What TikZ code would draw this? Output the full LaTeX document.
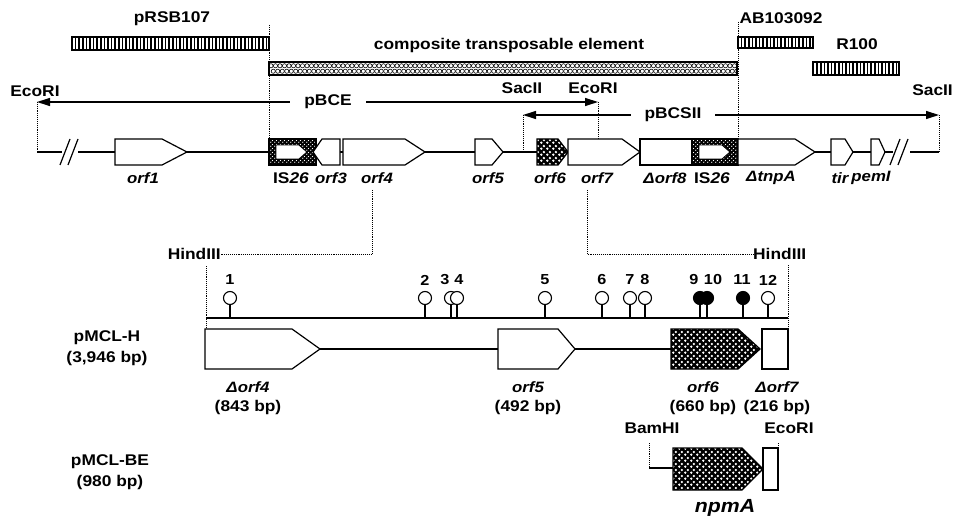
\documentclass[tikz,border=0pt]{standalone}
\usepackage{fontspec}
\setmainfont{Liberation Sans}[FakeStretch=1.12]
\usetikzlibrary{arrows.meta,patterns.meta}

\tikzdeclarepattern{name=wdots,type=uncolored,bottom left={(0pt,0pt)},top right={(6pt,6pt)},tile size={(6pt,6pt)},
  code={\fill (1.5pt,1.5pt) circle (1.45pt); \fill (4.5pt,4.5pt) circle (1.45pt);}}
\tikzdeclarepattern{name=fdots,type=uncolored,bottom left={(0pt,0pt)},top right={(3.6pt,3.6pt)},tile size={(3.6pt,3.6pt)},
  code={\fill (0.9pt,0.9pt) circle (0.7pt); \fill (2.7pt,2.7pt) circle (0.7pt);}}

\newcommand\gshape[6][genebox]{\path[#1] (#2,#5) -- (#3,#5) -- (#4,{(#5+#6)/2}) -- (#3,#6) -- (#2,#6) -- cycle;}

\begin{document}
\begin{tikzpicture}[x=1pt,y=-1pt,
  genebox/.style={draw,line width=1.2pt,fill=white,line join=miter},
  darkgene/.style={fill=black,postaction={pattern=wdots,pattern color=white},postaction={draw,line width=1.3pt,line join=miter}},
  isbox/.style={fill=black,postaction={pattern=fdots,pattern color=white},postaction={draw,line width=1.5pt}},
  stripebar/.style={draw,line width=1.1pt,pattern={Lines[angle=90,distance=3.6pt,line width=1.7pt]}},
  dna/.style={line width=1.2pt},
  dotl/.style={densely dotted,line width=0.9pt},
  lbl/.style={font=\bfseries\fontsize{15.5}{16}\selectfont,inner sep=0pt},
  glbl/.style={font=\bfseries\itshape\fontsize{15}{16}\selectfont,inner sep=0pt},
  nlbl/.style={font=\bfseries\fontsize{14.5}{15}\selectfont,inner sep=0pt},
  arr/.style={line width=1.2pt,{Triangle[length=13pt,width=8pt]}-{Triangle[length=13pt,width=8pt]}},
  pop/.style={draw,line width=1.1pt,fill=white},
  popf/.style={draw,line width=1.1pt,fill=black}]
\useasboundingbox (0,0) rectangle (954,516);

% ---------- top bars ----------
\node[lbl] (tpRSB) at (172,19) {pRSB107};
\path[stripebar] (72,37) rectangle (269,50);
\node[lbl] (tcomp) at (509,45) {composite transposable element};
\begin{scope}
  \clip (269,62) rectangle (737,75);
  \foreach \i in {0,...,104} {
    \draw[line width=0.6pt] ({271+4.5*\i},65.8) circle (2.1);
    \draw[line width=0.6pt] ({273.25+4.5*\i},71.2) circle (2.1);
  }
\end{scope}
\draw[line width=1.5pt] (269,62) rectangle (737,75);
\node[lbl] (tAB) at (781,18) {AB103092};
\path[stripebar] (738,37) rectangle (813,48);
\node[lbl] (tR100) at (857,44) {R100};
\path[stripebar] (813,62) rectangle (899,75);

% dotted boundaries
\draw[dotl] (269,25) -- (269,139);
\draw[dotl] (738,22) -- (738,139);

% ---------- restriction arrows ----------
\coordinate (ecoL) at (37,102);
\coordinate (ecoM) at (598,102);
\coordinate (sacM) at (523,115);
\coordinate (sacR) at (939,115);
\node[lbl] (tEcoL) at (35,91) {EcoRI};
\node[lbl] (tSacM) at (522,88) {SacII};
\node[lbl] (tEcoM) at (593,88) {EcoRI};
\node[lbl,anchor=east] (tSacR) at (953,90) {SacII};
\draw[arr] (ecoL) -- (ecoM);
\node[lbl,fill=white,inner xsep=14pt,inner ysep=2pt] (tpBCE) at (328,102) {pBCE};
\draw[arr] (sacM) -- (sacR);
\node[lbl,fill=white,inner xsep=14pt,inner ysep=2pt] (tpBCSII) at (673,115) {pBCSII};
\draw[dotl] (ecoL) -- (37,152);
\draw[dotl] (ecoM) -- (598,139);
\draw[dotl] (sacM) -- (523,152);
\draw[dotl] (sacR) -- (939,152);

% ---------- gene row ----------
\draw[dna] (37,152) -- (62,152);
\draw[dna] (78,152) -- (893,152);
\draw[dna] (910,152) -- (939,152);
\draw[dna] (60,165) -- (70,139);
\draw[dna] (68,165) -- (78,139);
\draw[dna] (890,165) -- (900,139);
\draw[dna] (898,165) -- (908,139);

\gshape{115}{162}{187}{139}{165}
\path[isbox] (269,139) rectangle (316,165);
\draw[line width=0.9pt,fill=white] (276,145) -- (299,145) -- (307,152) -- (299,159) -- (276,159) -- cycle;
\draw[genebox] (340,139) -- (322,139) -- (313,152) -- (322,165) -- (340,165) -- cycle;
\gshape{343}{405}{425}{139}{165}
\gshape{475}{492}{503}{139}{165}
\gshape[darkgene]{537}{558}{568}{139}{165}
\gshape{568}{622}{640}{139}{165}
\draw[genebox] (640,139) rectangle (692,165);
\path[isbox] (692,139) rectangle (738,165);
\draw[line width=0.9pt,fill=white] (699,145) -- (722,145) -- (730,152) -- (722,159) -- (699,159) -- cycle;
\gshape{738}{795}{815}{139}{165}
\gshape{831}{845}{853}{139}{165}
\gshape{871}{879}{885}{139}{165}

\node[glbl] (lorf1) at (143,178) {orf1};
\node[lbl] (lIS26a) at (291,178) {IS\textit{26}};
\node[glbl] (lorf3) at (331,178) {orf3};
\node[glbl] (lorf4) at (377,178) {orf4};
\node[glbl] (lorf5) at (488,178) {orf5};
\node[glbl] (lorf6) at (550,178) {orf6};
\node[glbl] (lorf7) at (597,178) {orf7};
\node[glbl] (lorf8) at (665,178) {Δorf8};
\node[lbl] (lIS26b) at (712,178) {IS\textit{26}};
\node[glbl] (ltnpA) at (771,178) {ΔtnpA};
\node[glbl] (ltir) at (840,178) {tir};
\node[glbl] (lpeml) at (871,178) {pemI};

% ---------- HindIII leaders ----------
\node[lbl,anchor=east] (tHindL) at (221,254) {HindIII};
\node[lbl,anchor=west] (tHindR) at (753,254) {HindIII};
\draw[dotl] (372,190) -- (372,254) -- (tHindL.east);
\draw[dotl] (587,190) -- (587,254) -- (tHindR.west);

% ---------- pMCL-H ----------
\node[lbl] (tpH) at (107,338) {pMCL-H};
\node[lbl] (tpHbp) at (107,358) {(3,946 bp)};
\draw[dotl] (206,266) -- (206,329);
\draw[dotl] (788,265) -- (788,329);
\draw[line width=1.3pt] (206,318) -- (788,318);
\foreach \x/\s in {230/pop,425/pop,451/pop,457/pop,545/pop,602/pop,630/pop,645/pop,700/popf,707/popf,743/popf,768/pop} {
  \draw[line width=1.1pt] (\x,318) -- (\x,304);
}
\foreach \x/\s in {230/pop,425/pop,451/pop,457/pop,545/pop,602/pop,630/pop,645/pop,700/popf,707/popf,743/popf,768/pop} {
  \path[\s] (\x,298) circle (6.5);
}
\foreach \x/\n in {230/1,425/2,445/3,459/4,545/5,602/6,630/7,645/8,694/9,713/10,742/11,768/12} {
  \node[nlbl] (n\n) at (\x,280) {\n};
}

\draw[dna] (320,349) -- (498,349);
\draw[dna] (575,349) -- (672,349);
\gshape{205}{292}{320}{329}{369}
\gshape{498}{558}{575}{329}{369}
\gshape[darkgene]{671}{738}{760}{329}{369}
\draw[genebox] (762,329) rectangle (788,369);

\node[glbl] (lhorf4) at (248,387) {Δorf4};
\node[lbl] (lhorf4b) at (248,407) {(843 bp)};
\node[glbl] (lhorf5) at (528,387) {orf5};
\node[lbl] (lhorf5b) at (528,407) {(492 bp)};
\node[glbl] (lhorf6) at (703,387) {orf6};
\node[lbl] (lhorf6b) at (703,407) {(660 bp)};
\node[glbl] (lhorf7) at (777,387) {Δorf7};
\node[lbl] (lhorf7b) at (777,407) {(216 bp)};

% ---------- pMCL-BE ----------
\node[lbl] (tpBE) at (110,462) {pMCL-BE};
\node[lbl] (tpBEbp) at (110,482) {(980 bp)};
\node[lbl] (tBam) at (652,428) {BamHI};
\node[lbl] (tEcoB) at (789,428) {EcoRI};
\draw[dotl] (649,443) -- (649,468);
\draw[dna] (649,468) -- (673,468);
\gshape[darkgene]{673}{742}{763}{448}{490}
\draw[dotl] (778,443) -- (778,448);
\draw[genebox] (763,448) rectangle (778,490);
\node[font=\bfseries\itshape\fontsize{19}{19}\selectfont,inner sep=0pt] (lnpmA) at (725,508) {npmA};
\end{tikzpicture}
\end{document}
